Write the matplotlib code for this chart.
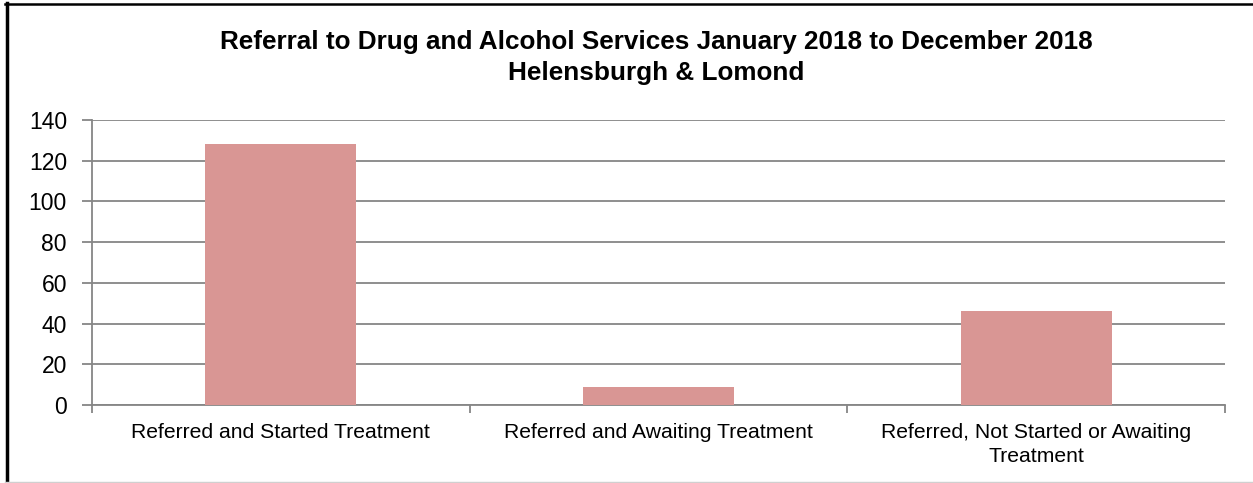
import matplotlib
matplotlib.use("Agg")
import matplotlib.pyplot as plt
from matplotlib.lines import Line2D

categories = ["Referred and Started Treatment",
              "Referred and Awaiting Treatment",
              "Referred, Not Started or Awaiting\nTreatment"]
values = [128, 9, 46]
yticks = [0, 20, 40, 60, 80, 100, 120, 140]
title_line1 = "Referral to Drug and Alcohol Services January 2018 to December 2018"
title_line2 = "Helensburgh & Lomond"

plt.rcParams['font.family'] = ['Liberation Sans', 'DejaVu Sans']

W, H = 1253, 483
fig = plt.figure(figsize=(W/100, H/100), dpi=100)
ax = fig.add_axes([92/W, 1-405/H, (1225-92)/W, (405-120)/H])

x = list(range(len(categories)))
ax.bar(x, values, width=0.40, color="#D99694", zorder=3)
ax.set_xlim(-0.5, len(categories)-0.5)
ax.set_ylim(0, 140)
ax.set_yticks(yticks)
ax.set_yticklabels([str(v) for v in yticks], fontsize=16.5)
ax.yaxis.grid(True, color="#868686", linewidth=1.3, zorder=0)
ax.set_axisbelow(True)

ax.set_xticks(x)
ax.set_xticklabels(categories, fontsize=15.2, linespacing=1.3)
ax.tick_params(axis='x', length=0, pad=13)
ax.set_xticks([-0.5, 0.5, 1.5, 2.5], minor=True)
ax.tick_params(axis='x', which='minor', length=6, color="#868686", width=1.3)
ax.tick_params(axis='y', length=7, color="#868686", width=1.3, pad=11)

for s in ['top', 'right']:
    ax.spines[s].set_visible(False)
for s in ['left', 'bottom']:
    ax.spines[s].set_color("#868686")
    ax.spines[s].set_linewidth(1.3)

fig.text(656/W, 1-42/H, title_line1, ha='center', va='center', fontsize=18.8, fontweight='bold')
fig.text(656/W, 1-73/H, title_line2, ha='center', va='center', fontsize=18.8, fontweight='bold')

# outer frame
fig.add_artist(Line2D([6.5/W, 6.5/W], [0, 1-3/H], transform=fig.transFigure, color='black', linewidth=2.5))
fig.add_artist(Line2D([5/W, 1], [1-4/H, 1-4/H], transform=fig.transFigure, color='black', linewidth=1.8))
fig.add_artist(Line2D([5/W, 1], [1.5/H, 1.5/H], transform=fig.transFigure, color='#D0D0D0', linewidth=1))

fig.savefig("out.png", dpi=100)
